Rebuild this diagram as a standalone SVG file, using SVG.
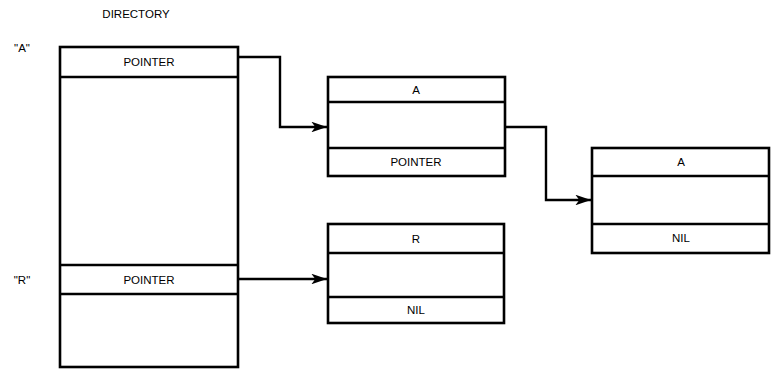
<svg xmlns="http://www.w3.org/2000/svg" width="771" height="371" viewBox="0 0 771 371">
<defs>
<style>
.box{fill:#fff;stroke:#000;stroke-width:2.6}
.ln{stroke:#000;stroke-width:2.6;fill:none}
.t{font-family:"Liberation Sans",Arial,sans-serif;font-size:11.5px;fill:#000;text-anchor:middle}
.c{stroke:#000;stroke-width:2.4;fill:none}
</style>
<marker id="ah" viewBox="0 0 10 10" refX="10" refY="5" markerWidth="6.5" markerHeight="4.4" markerUnits="strokeWidth" orient="auto" preserveAspectRatio="none">
<path d="M0,0 L10,5 L0,10 L2.5,5 Z" fill="#000"/>
</marker>
</defs>
<rect width="771" height="371" fill="#fff"/>
<text class="t" x="136" y="18">DIRECTORY</text>
<text class="t" x="22" y="52">"A"</text>
<text class="t" x="22" y="284">"R"</text>
<g id="directory">
<rect class="box" x="60" y="47" width="178" height="320"/>
<line class="ln" x1="60" y1="77" x2="238" y2="77"/>
<line class="ln" x1="60" y1="265" x2="238" y2="265"/>
<line class="ln" x1="60" y1="294" x2="238" y2="294"/>
<text class="t" x="149" y="66">POINTER</text>
<text class="t" x="149" y="284">POINTER</text>
</g>
<g id="nodeA1">
<rect class="box" x="328" y="77" width="177" height="99"/>
<line class="ln" x1="328" y1="102" x2="505" y2="102"/>
<line class="ln" x1="328" y1="148" x2="505" y2="148"/>
<text class="t" x="416" y="94">A</text>
<text class="t" x="416" y="166">POINTER</text>
</g>
<g id="nodeA2">
<rect class="box" x="592" y="148" width="177" height="105"/>
<line class="ln" x1="592" y1="176" x2="769" y2="176"/>
<line class="ln" x1="592" y1="224" x2="769" y2="224"/>
<text class="t" x="681" y="166">A</text>
<text class="t" x="681" y="242">NIL</text>
</g>
<g id="nodeR">
<rect class="box" x="328" y="224" width="176" height="99"/>
<line class="ln" x1="328" y1="253" x2="504" y2="253"/>
<line class="ln" x1="328" y1="297" x2="504" y2="297"/>
<text class="t" x="416" y="243">R</text>
<text class="t" x="416" y="314">NIL</text>
</g>
<g id="connectors">
<path class="c" d="M238,57 H280 V127 H327" marker-end="url(#ah)"/>
<path class="c" d="M505,127 H546 V200 H591" marker-end="url(#ah)"/>
<path class="c" d="M238,279 H327" marker-end="url(#ah)"/>
</g>
</svg>
